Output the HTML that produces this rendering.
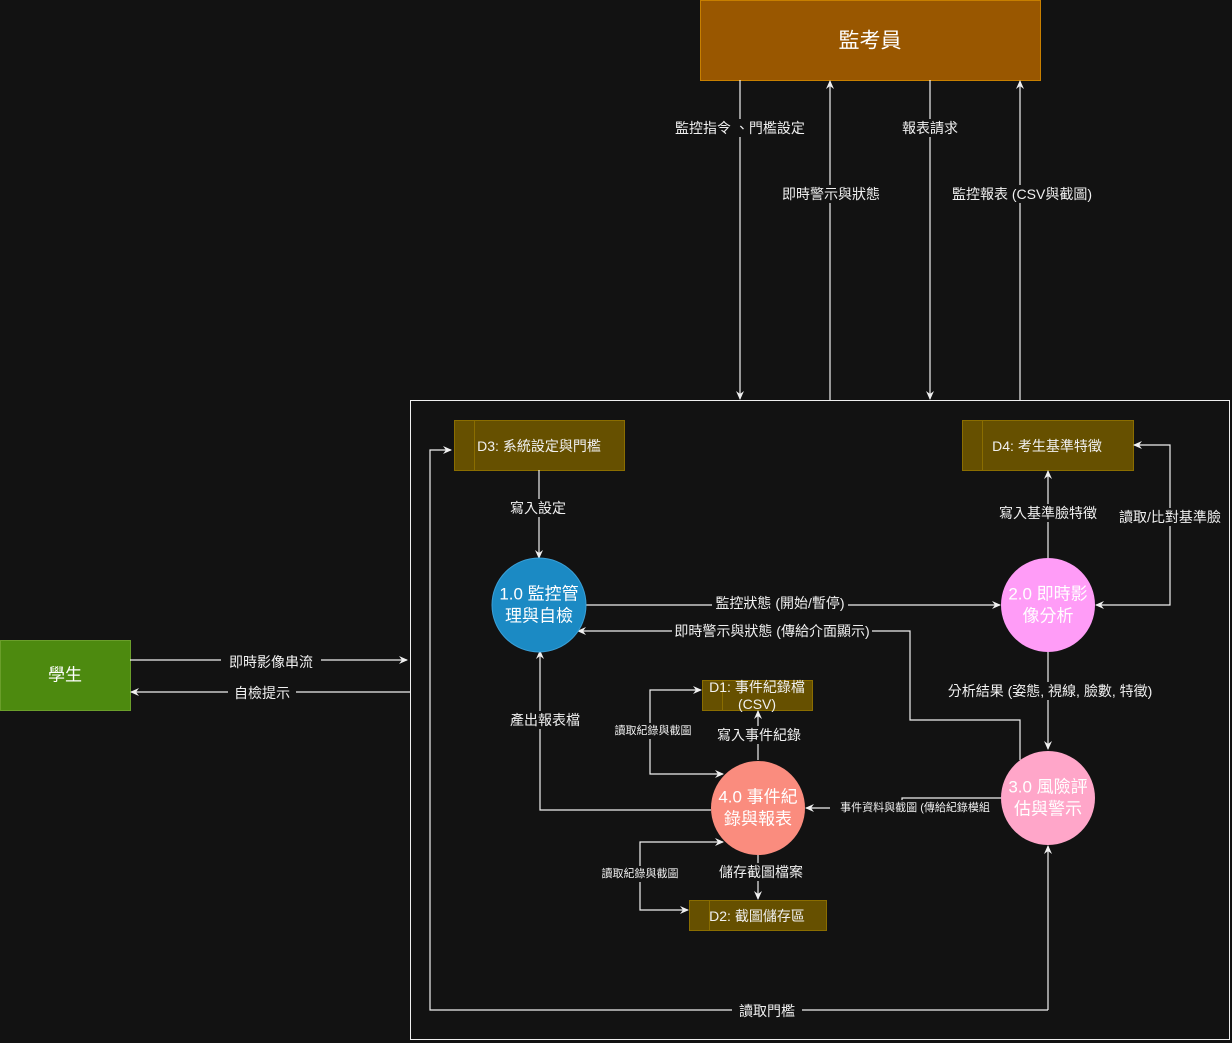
<!DOCTYPE html>
<html><head><meta charset="utf-8"><style>
html,body{margin:0;padding:0;background:#121212;}
svg{display:block;font-family:"Liberation Sans","Noto Sans CJK TC",sans-serif;}
.l{fill:#f0f0f0;font-size:14px;text-anchor:middle;dominant-baseline:central;}
.s{font-size:11px;}
.bg{fill:#121212;}
.ln{stroke:#f0f0f0;stroke-width:1.2;fill:none;}
.ct{fill:#fff;font-size:17px;text-anchor:middle;dominant-baseline:central;}
.st{fill:#f0f0f0;font-size:14px;text-anchor:middle;dominant-baseline:central;}
</style></head><body>
<svg width="1232" height="1043" viewBox="0 0 1232 1043">
<defs><marker id="a" markerWidth="10" markerHeight="10" refX="8" refY="5" orient="auto-start-reverse" markerUnits="userSpaceOnUse"><path d="M0,1 L9,5 L0,9 L3,5 Z" fill="#f0f0f0"/></marker></defs>
<rect x="0" y="0" width="1232" height="1043" fill="#121212"/>
<rect x="700.5" y="0.5" width="340" height="80" fill="#995700" stroke="#c77f00"/>
<text x="870" y="41" class="ct" style="font-size:21px">監考員</text>
<rect x="0.5" y="640.5" width="130" height="70" fill="#4d8a0f" stroke="#6a9e2a"/>
<text x="65" y="675" class="ct">學生</text>
<rect x="410.5" y="400.5" width="819" height="639" fill="none" stroke="#f0f0f0"/>
<g fill="#665000" stroke="#8a6d00">
<rect x="454.5" y="420.5" width="170" height="50"/><line x1="474.5" y1="420.5" x2="474.5" y2="470.5"/>
<rect x="962.5" y="420.5" width="171" height="50"/><line x1="982.5" y1="420.5" x2="982.5" y2="470.5"/>
<rect x="702.5" y="680.5" width="110" height="30"/><line x1="722.5" y1="680.5" x2="722.5" y2="710.5"/>
<rect x="689.5" y="900.5" width="137" height="30"/><line x1="709.5" y1="900.5" x2="709.5" y2="930.5"/>
</g>
<text x="539" y="446" class="st">D3: 系統設定與門檻</text>
<text x="1047" y="446" class="st">D4: 考生基準特徵</text>
<text x="757" y="687" class="st">D1: 事件紀錄檔</text>
<text x="757" y="704" class="st">(CSV)</text>
<text x="757" y="916" class="st">D2: 截圖儲存區</text>
<g class="ln" marker-end="url(#a)">
<path d="M740,80 V399"/>
<path d="M830,400 V81"/>
<path d="M930,80 V399"/>
<path d="M1020,400 V81"/>
<path d="M130,660 H407"/>
<path d="M410,692 H131"/>
<path d="M539,470 V558"/>
<path d="M586,605 H1000"/>
<path d="M1020,760 V720 H910 V631 H578"/>
<path d="M1048,558 V471"/>
<path d="M1096,605 H1170 V445 H1134" marker-start="url(#a)"/>
<path d="M1048,652 V749"/>
<path d="M1001,798 H902 V808 H806"/>
<path d="M758,760 V711"/>
<path d="M723,774 H650 V690 H701" marker-start="url(#a)"/>
<path d="M758,855 V899"/>
<path d="M723,842 H640 V910 H688" marker-start="url(#a)"/>
<path d="M711,810 H540 V651"/>
<path d="M1048,1010 V846"/>
<path d="M1048,1010 H430 V450 H451"/>
</g>
<circle cx="539" cy="605" r="47" fill="#1b8ac4" stroke="#3aa0d8"/>
<text x="539" y="594" class="ct">1.0 監控管</text><text x="539" y="616" class="ct">理與自檢</text>
<circle cx="1048" cy="605" r="47" fill="#ff9cf7"/>
<text x="1048" y="594" class="ct">2.0 即時影</text><text x="1048" y="616" class="ct">像分析</text>
<circle cx="1048" cy="798" r="47" fill="#ffa6c9"/>
<text x="1048" y="787" class="ct">3.0 風險評</text><text x="1048" y="809" class="ct">估與警示</text>
<circle cx="758" cy="808" r="47" fill="#fa8c7e"/>
<text x="758" y="797" class="ct">4.0 事件紀</text><text x="758" y="819" class="ct">錄與報表</text>
<g>
<rect class="bg" x="666" y="119" width="148" height="18"/><text x="740" y="128" class="l">監控指令 、門檻設定</text>
<rect class="bg" x="773" y="185" width="116" height="18"/><text x="831" y="194" class="l">即時警示與狀態</text>
<rect class="bg" x="896" y="119" width="68" height="18"/><text x="930" y="128" class="l">報表請求</text>
<rect class="bg" x="938" y="185" width="168" height="18"/><text x="1022" y="194" class="l">監控報表 (CSV與截圖)</text>
<rect class="bg" x="221" y="653" width="100" height="18"/><text x="271" y="662" class="l">即時影像串流</text>
<rect class="bg" x="228" y="684" width="68" height="18"/><text x="262" y="693" class="l">自檢提示</text>
<rect class="bg" x="504" y="499" width="68" height="18"/><text x="538" y="508" class="l">寫入設定</text>
<rect class="bg" x="712" y="594" width="136" height="18"/><text x="780" y="603" class="l">監控狀態 (開始/暫停)</text>
<rect class="bg" x="672" y="622" width="200" height="18"/><text x="772" y="631" class="l">即時警示與狀態 (傳給介面顯示)</text>
<rect class="bg" x="996" y="504" width="104" height="18"/><text x="1048" y="513" class="l">寫入基準臉特徵</text>
<rect class="bg" x="1114" y="508" width="112" height="18"/><text x="1170" y="517" class="l">讀取/比對基準臉</text>
<rect class="bg" x="944" y="682" width="212" height="18"/><text x="1050" y="691" class="l">分析結果 (姿態, 視線, 臉數, 特徵)</text>
<rect class="bg" x="830" y="800" width="170" height="16"/><text x="915" y="808" class="l s">事件資料與截圖 (傳給紀錄模組</text>
<rect class="bg" x="714" y="726" width="90" height="18"/><text x="759" y="735" class="l">寫入事件紀錄</text>
<rect class="bg" x="608" y="723" width="90" height="16"/><text x="653" y="731" class="l s">讀取紀錄與截圖</text>
<rect class="bg" x="716" y="863" width="90" height="18"/><text x="761" y="872" class="l">儲存截圖檔案</text>
<rect class="bg" x="595" y="866" width="90" height="16"/><text x="640" y="874" class="l s">讀取紀錄與截圖</text>
<rect class="bg" x="504" y="711" width="82" height="18"/><text x="545" y="720" class="l">產出報表檔</text>
<rect class="bg" x="732" y="1002" width="70" height="18"/><text x="767" y="1011" class="l">讀取門檻</text>
</g>
</svg>
</body></html>
